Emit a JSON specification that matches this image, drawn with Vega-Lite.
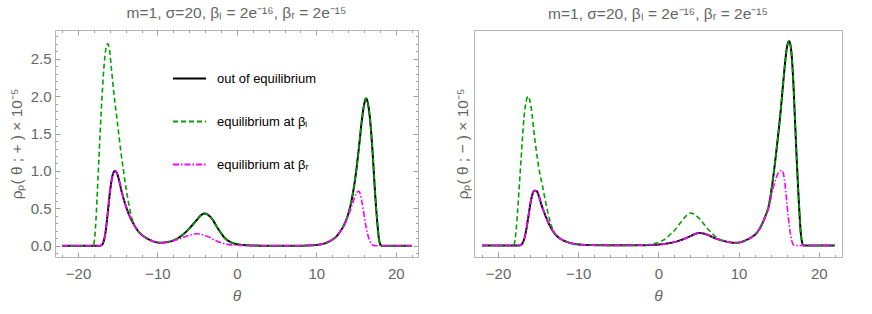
{
"$schema": "https://vega.github.io/schema/vega-lite/v6.json",
"padding": {"left": 8, "top": 5, "right": 4, "bottom": 4},
"config": {
  "font": "Liberation Sans",
  "view": {"stroke": "#b4b4b4", "strokeWidth": 1},
  "axis": {"grid": false, "domain": false, "labelColor": "#666666", "titleColor": "#666666", "labelFontSize": 15, "titleFontSize": 15.5, "titleFontWeight": "normal", "tickColor": "#a0a0a0", "tickWidth": 1},
  "title": {"fontSize": 15.5, "fontWeight": "normal", "color": "#666666", "offset": 8}
},
"datasets": {
"plus": [
{"theta":-22,"rho":0,"series":"out"},{"theta":-19,"rho":0,"series":"out"},{"theta":-17.3,"rho":0,"series":"out"},{"theta":-17,"rho":0.01,"series":"out"},{"theta":-16.8,"rho":0.05,"series":"out"},{"theta":-16.6,"rho":0.14,"series":"out"},{"theta":-16.4,"rho":0.3,"series":"out"},{"theta":-16.2,"rho":0.5,"series":"out"},{"theta":-16,"rho":0.7,"series":"out"},{"theta":-15.8,"rho":0.86,"series":"out"},{"theta":-15.6,"rho":0.96,"series":"out"},{"theta":-15.35,"rho":1,"series":"out"},{"theta":-15.1,"rho":0.97,"series":"out"},{"theta":-14.8,"rho":0.86,"series":"out"},{"theta":-14.5,"rho":0.72,"series":"out"},{"theta":-14.1,"rho":0.57,"series":"out"},{"theta":-13.6,"rho":0.42,"series":"out"},{"theta":-13,"rho":0.29,"series":"out"},{"theta":-12.4,"rho":0.19,"series":"out"},{"theta":-11.8,"rho":0.13,"series":"out"},{"theta":-11,"rho":0.08,"series":"out"},{"theta":-10.3,"rho":0.05,"series":"out"},{"theta":-9.6,"rho":0.04,"series":"out"},{"theta":-9,"rho":0.045,"series":"out"},{"theta":-8,"rho":0.07,"series":"out"},{"theta":-7,"rho":0.13,"series":"out"},{"theta":-6,"rho":0.23,"series":"out"},{"theta":-5,"rho":0.35,"series":"out"},{"theta":-4.5,"rho":0.41,"series":"out"},{"theta":-4.1,"rho":0.43,"series":"out"},{"theta":-3.6,"rho":0.41,"series":"out"},{"theta":-3,"rho":0.34,"series":"out"},{"theta":-2.5,"rho":0.25,"series":"out"},{"theta":-2,"rho":0.17,"series":"out"},{"theta":-1.5,"rho":0.1,"series":"out"},{"theta":-1,"rho":0.06,"series":"out"},{"theta":-0.5,"rho":0.035,"series":"out"},{"theta":0,"rho":0.02,"series":"out"},{"theta":1,"rho":0.008,"series":"out"},{"theta":2,"rho":0.003,"series":"out"},{"theta":4,"rho":0,"series":"out"},{"theta":8,"rho":0,"series":"out"},{"theta":9,"rho":0.003,"series":"out"},{"theta":10,"rho":0.01,"series":"out"},{"theta":11,"rho":0.03,"series":"out"},{"theta":12,"rho":0.08,"series":"out"},{"theta":12.5,"rho":0.12,"series":"out"},{"theta":13,"rho":0.19,"series":"out"},{"theta":13.5,"rho":0.28,"series":"out"},{"theta":14,"rho":0.42,"series":"out"},{"theta":14.5,"rho":0.64,"series":"out"},{"theta":15,"rho":0.98,"series":"out"},{"theta":15.4,"rho":1.35,"series":"out"},{"theta":15.7,"rho":1.65,"series":"out"},{"theta":16,"rho":1.88,"series":"out"},{"theta":16.25,"rho":1.97,"series":"out"},{"theta":16.5,"rho":1.9,"series":"out"},{"theta":16.8,"rho":1.65,"series":"out"},{"theta":17.1,"rho":1.22,"series":"out"},{"theta":17.4,"rho":0.7,"series":"out"},{"theta":17.7,"rho":0.28,"series":"out"},{"theta":17.9,"rho":0.08,"series":"out"},{"theta":18.1,"rho":0.01,"series":"out"},{"theta":18.3,"rho":0,"series":"out"},{"theta":22,"rho":0,"series":"out"},

{"theta":-22,"rho":0,"series":"eqL"},{"theta":-19,"rho":0,"series":"eqL"},{"theta":-18.2,"rho":0,"series":"eqL"},{"theta":-18,"rho":0.03,"series":"eqL"},{"theta":-17.8,"rho":0.25,"series":"eqL"},{"theta":-17.6,"rho":0.65,"series":"eqL"},{"theta":-17.4,"rho":1.1,"series":"eqL"},{"theta":-17.2,"rho":1.55,"series":"eqL"},{"theta":-17,"rho":1.95,"series":"eqL"},{"theta":-16.8,"rho":2.3,"series":"eqL"},{"theta":-16.6,"rho":2.55,"series":"eqL"},{"theta":-16.4,"rho":2.68,"series":"eqL"},{"theta":-16.25,"rho":2.7,"series":"eqL"},{"theta":-16.05,"rho":2.63,"series":"eqL"},{"theta":-15.8,"rho":2.37,"series":"eqL"},{"theta":-15.5,"rho":2.05,"series":"eqL"},{"theta":-15.2,"rho":1.78,"series":"eqL"},{"theta":-14.9,"rho":1.52,"series":"eqL"},{"theta":-14.6,"rho":1.25,"series":"eqL"},{"theta":-14.3,"rho":1.02,"series":"eqL"},{"theta":-14,"rho":0.8,"series":"eqL"},{"theta":-13.6,"rho":0.55,"series":"eqL"},{"theta":-13.2,"rho":0.36,"series":"eqL"},{"theta":-12.8,"rho":0.25,"series":"eqL"},{"theta":-12.4,"rho":0.19,"series":"eqL"},{"theta":-11.8,"rho":0.13,"series":"eqL"},{"theta":-11,"rho":0.08,"series":"eqL"},{"theta":-10.3,"rho":0.05,"series":"eqL"},{"theta":-9.6,"rho":0.04,"series":"eqL"},{"theta":-9,"rho":0.045,"series":"eqL"},{"theta":-8,"rho":0.07,"series":"eqL"},{"theta":-7,"rho":0.13,"series":"eqL"},{"theta":-6,"rho":0.23,"series":"eqL"},{"theta":-5,"rho":0.35,"series":"eqL"},{"theta":-4.5,"rho":0.41,"series":"eqL"},{"theta":-4.1,"rho":0.43,"series":"eqL"},{"theta":-3.6,"rho":0.41,"series":"eqL"},{"theta":-3,"rho":0.34,"series":"eqL"},{"theta":-2.5,"rho":0.25,"series":"eqL"},{"theta":-2,"rho":0.17,"series":"eqL"},{"theta":-1.5,"rho":0.1,"series":"eqL"},{"theta":-1,"rho":0.06,"series":"eqL"},{"theta":-0.5,"rho":0.035,"series":"eqL"},{"theta":0,"rho":0.02,"series":"eqL"},{"theta":1,"rho":0.008,"series":"eqL"},{"theta":2,"rho":0.003,"series":"eqL"},{"theta":4,"rho":0,"series":"eqL"},{"theta":8,"rho":0,"series":"eqL"},{"theta":9,"rho":0.003,"series":"eqL"},{"theta":10,"rho":0.01,"series":"eqL"},{"theta":11,"rho":0.03,"series":"eqL"},{"theta":12,"rho":0.08,"series":"eqL"},{"theta":12.5,"rho":0.12,"series":"eqL"},{"theta":13,"rho":0.19,"series":"eqL"},{"theta":13.5,"rho":0.28,"series":"eqL"},{"theta":14,"rho":0.42,"series":"eqL"},{"theta":14.5,"rho":0.64,"series":"eqL"},{"theta":15,"rho":0.98,"series":"eqL"},{"theta":15.4,"rho":1.35,"series":"eqL"},{"theta":15.7,"rho":1.65,"series":"eqL"},{"theta":16,"rho":1.88,"series":"eqL"},{"theta":16.25,"rho":1.97,"series":"eqL"},{"theta":16.5,"rho":1.9,"series":"eqL"},{"theta":16.8,"rho":1.65,"series":"eqL"},{"theta":17.1,"rho":1.22,"series":"eqL"},{"theta":17.4,"rho":0.7,"series":"eqL"},{"theta":17.7,"rho":0.28,"series":"eqL"},{"theta":17.9,"rho":0.08,"series":"eqL"},{"theta":18.1,"rho":0.01,"series":"eqL"},{"theta":18.3,"rho":0,"series":"eqL"},{"theta":22,"rho":0,"series":"eqL"},

{"theta":-22,"rho":0,"series":"eqR"},{"theta":-19,"rho":0,"series":"eqR"},{"theta":-17.3,"rho":0,"series":"eqR"},{"theta":-17,"rho":0.01,"series":"eqR"},{"theta":-16.8,"rho":0.05,"series":"eqR"},{"theta":-16.6,"rho":0.14,"series":"eqR"},{"theta":-16.4,"rho":0.3,"series":"eqR"},{"theta":-16.2,"rho":0.5,"series":"eqR"},{"theta":-16,"rho":0.7,"series":"eqR"},{"theta":-15.8,"rho":0.86,"series":"eqR"},{"theta":-15.6,"rho":0.96,"series":"eqR"},{"theta":-15.35,"rho":1,"series":"eqR"},{"theta":-15.1,"rho":0.97,"series":"eqR"},{"theta":-14.8,"rho":0.86,"series":"eqR"},{"theta":-14.5,"rho":0.72,"series":"eqR"},{"theta":-14.1,"rho":0.57,"series":"eqR"},{"theta":-13.6,"rho":0.42,"series":"eqR"},{"theta":-13,"rho":0.29,"series":"eqR"},{"theta":-12.4,"rho":0.19,"series":"eqR"},{"theta":-11.8,"rho":0.13,"series":"eqR"},{"theta":-11,"rho":0.08,"series":"eqR"},{"theta":-10.3,"rho":0.05,"series":"eqR"},{"theta":-9.6,"rho":0.035,"series":"eqR"},{"theta":-9,"rho":0.045,"series":"eqR"},{"theta":-8,"rho":0.065,"series":"eqR"},{"theta":-7,"rho":0.1,"series":"eqR"},{"theta":-6,"rho":0.14,"series":"eqR"},{"theta":-5.1,"rho":0.16,"series":"eqR"},{"theta":-4.2,"rho":0.145,"series":"eqR"},{"theta":-3.5,"rho":0.115,"series":"eqR"},{"theta":-3,"rho":0.085,"series":"eqR"},{"theta":-2.5,"rho":0.06,"series":"eqR"},{"theta":-2,"rho":0.04,"series":"eqR"},{"theta":-1.5,"rho":0.025,"series":"eqR"},{"theta":-1,"rho":0.015,"series":"eqR"},{"theta":0,"rho":0.006,"series":"eqR"},{"theta":1,"rho":0.002,"series":"eqR"},{"theta":3,"rho":0,"series":"eqR"},{"theta":8,"rho":0,"series":"eqR"},{"theta":9,"rho":0.003,"series":"eqR"},{"theta":10,"rho":0.01,"series":"eqR"},{"theta":11,"rho":0.03,"series":"eqR"},{"theta":12,"rho":0.08,"series":"eqR"},{"theta":12.5,"rho":0.12,"series":"eqR"},{"theta":13,"rho":0.19,"series":"eqR"},{"theta":13.5,"rho":0.27,"series":"eqR"},{"theta":14,"rho":0.39,"series":"eqR"},{"theta":14.4,"rho":0.51,"series":"eqR"},{"theta":14.8,"rho":0.64,"series":"eqR"},{"theta":15.1,"rho":0.71,"series":"eqR"},{"theta":15.3,"rho":0.73,"series":"eqR"},{"theta":15.5,"rho":0.7,"series":"eqR"},{"theta":15.75,"rho":0.58,"series":"eqR"},{"theta":16,"rho":0.42,"series":"eqR"},{"theta":16.25,"rho":0.26,"series":"eqR"},{"theta":16.5,"rho":0.14,"series":"eqR"},{"theta":16.8,"rho":0.05,"series":"eqR"},{"theta":17.1,"rho":0.01,"series":"eqR"},{"theta":17.4,"rho":0,"series":"eqR"},{"theta":22,"rho":0,"series":"eqR"}
],
"minus": [
{"theta":-22,"rho":0,"series":"out"},{"theta":-19,"rho":0,"series":"out"},{"theta":-17.3,"rho":0,"series":"out"},{"theta":-17.1,"rho":0.01,"series":"out"},{"theta":-16.9,"rho":0.04,"series":"out"},{"theta":-16.7,"rho":0.1,"series":"out"},{"theta":-16.5,"rho":0.2,"series":"out"},{"theta":-16.3,"rho":0.33,"series":"out"},{"theta":-16.1,"rho":0.47,"series":"out"},{"theta":-15.9,"rho":0.6,"series":"out"},{"theta":-15.7,"rho":0.69,"series":"out"},{"theta":-15.45,"rho":0.735,"series":"out"},{"theta":-15.2,"rho":0.73,"series":"out"},{"theta":-14.9,"rho":0.66,"series":"out"},{"theta":-14.6,"rho":0.55,"series":"out"},{"theta":-14.2,"rho":0.43,"series":"out"},{"theta":-13.7,"rho":0.3,"series":"out"},{"theta":-13.2,"rho":0.2,"series":"out"},{"theta":-12.6,"rho":0.12,"series":"out"},{"theta":-12,"rho":0.075,"series":"out"},{"theta":-11.2,"rho":0.04,"series":"out"},{"theta":-10.5,"rho":0.02,"series":"out"},{"theta":-9.5,"rho":0.01,"series":"out"},{"theta":-8,"rho":0.004,"series":"out"},{"theta":-6,"rho":0.001,"series":"out"},{"theta":-4,"rho":0.001,"series":"out"},{"theta":-2,"rho":0.003,"series":"out"},{"theta":-1,"rho":0.006,"series":"out"},{"theta":0,"rho":0.012,"series":"out"},{"theta":1,"rho":0.025,"series":"out"},{"theta":2,"rho":0.045,"series":"out"},{"theta":3,"rho":0.08,"series":"out"},{"theta":4,"rho":0.125,"series":"out"},{"theta":4.6,"rho":0.155,"series":"out"},{"theta":5.1,"rho":0.166,"series":"out"},{"theta":5.6,"rho":0.16,"series":"out"},{"theta":6.2,"rho":0.14,"series":"out"},{"theta":7,"rho":0.1,"series":"out"},{"theta":8,"rho":0.065,"series":"out"},{"theta":8.8,"rho":0.045,"series":"out"},{"theta":9.5,"rho":0.035,"series":"out"},{"theta":10.1,"rho":0.04,"series":"out"},{"theta":11,"rho":0.075,"series":"out"},{"theta":11.6,"rho":0.11,"series":"out"},{"theta":12.2,"rho":0.16,"series":"out"},{"theta":12.8,"rho":0.26,"series":"out"},{"theta":13.3,"rho":0.38,"series":"out"},{"theta":13.8,"rho":0.55,"series":"out"},{"theta":14.3,"rho":0.9,"series":"out"},{"theta":14.8,"rho":1.35,"series":"out"},{"theta":15.2,"rho":1.75,"series":"out"},{"theta":15.5,"rho":2.1,"series":"out"},{"theta":15.8,"rho":2.45,"series":"out"},{"theta":16.05,"rho":2.67,"series":"out"},{"theta":16.3,"rho":2.74,"series":"out"},{"theta":16.55,"rho":2.63,"series":"out"},{"theta":16.8,"rho":2.25,"series":"out"},{"theta":17.05,"rho":1.65,"series":"out"},{"theta":17.3,"rho":1.05,"series":"out"},{"theta":17.55,"rho":0.52,"series":"out"},{"theta":17.75,"rho":0.18,"series":"out"},{"theta":17.95,"rho":0.03,"series":"out"},{"theta":18.1,"rho":0,"series":"out"},{"theta":22,"rho":0,"series":"out"},

{"theta":-22,"rho":0,"series":"eqL"},{"theta":-19,"rho":0,"series":"eqL"},{"theta":-18.1,"rho":0,"series":"eqL"},{"theta":-17.95,"rho":0.03,"series":"eqL"},{"theta":-17.75,"rho":0.2,"series":"eqL"},{"theta":-17.55,"rho":0.48,"series":"eqL"},{"theta":-17.35,"rho":0.8,"series":"eqL"},{"theta":-17.15,"rho":1.12,"series":"eqL"},{"theta":-16.95,"rho":1.45,"series":"eqL"},{"theta":-16.75,"rho":1.73,"series":"eqL"},{"theta":-16.5,"rho":1.93,"series":"eqL"},{"theta":-16.25,"rho":2,"series":"eqL"},{"theta":-16,"rho":1.93,"series":"eqL"},{"theta":-15.75,"rho":1.75,"series":"eqL"},{"theta":-15.5,"rho":1.5,"series":"eqL"},{"theta":-15.2,"rho":1.25,"series":"eqL"},{"theta":-14.9,"rho":1.03,"series":"eqL"},{"theta":-14.5,"rho":0.82,"series":"eqL"},{"theta":-14.1,"rho":0.6,"series":"eqL"},{"theta":-13.65,"rho":0.38,"series":"eqL"},{"theta":-13.2,"rho":0.22,"series":"eqL"},{"theta":-12.6,"rho":0.12,"series":"eqL"},{"theta":-12,"rho":0.075,"series":"eqL"},{"theta":-11.2,"rho":0.04,"series":"eqL"},{"theta":-10.5,"rho":0.02,"series":"eqL"},{"theta":-9.5,"rho":0.01,"series":"eqL"},{"theta":-8,"rho":0.004,"series":"eqL"},{"theta":-6,"rho":0.001,"series":"eqL"},{"theta":-4,"rho":0.001,"series":"eqL"},{"theta":-2,"rho":0.003,"series":"eqL"},{"theta":-1.5,"rho":0.006,"series":"eqL"},{"theta":-1,"rho":0.015,"series":"eqL"},{"theta":-0.5,"rho":0.025,"series":"eqL"},{"theta":0,"rho":0.04,"series":"eqL"},{"theta":0.5,"rho":0.065,"series":"eqL"},{"theta":1,"rho":0.1,"series":"eqL"},{"theta":1.5,"rho":0.15,"series":"eqL"},{"theta":2,"rho":0.2,"series":"eqL"},{"theta":2.5,"rho":0.27,"series":"eqL"},{"theta":3,"rho":0.34,"series":"eqL"},{"theta":3.5,"rho":0.4,"series":"eqL"},{"theta":4.05,"rho":0.434,"series":"eqL"},{"theta":4.6,"rho":0.41,"series":"eqL"},{"theta":5.2,"rho":0.35,"series":"eqL"},{"theta":5.8,"rho":0.27,"series":"eqL"},{"theta":6.35,"rho":0.2,"series":"eqL"},{"theta":7,"rho":0.13,"series":"eqL"},{"theta":7.6,"rho":0.085,"series":"eqL"},{"theta":8.2,"rho":0.055,"series":"eqL"},{"theta":8.8,"rho":0.045,"series":"eqL"},{"theta":9.5,"rho":0.035,"series":"eqL"},{"theta":10.1,"rho":0.04,"series":"eqL"},{"theta":11,"rho":0.075,"series":"eqL"},{"theta":11.6,"rho":0.11,"series":"eqL"},{"theta":12.2,"rho":0.16,"series":"eqL"},{"theta":12.8,"rho":0.26,"series":"eqL"},{"theta":13.3,"rho":0.38,"series":"eqL"},{"theta":13.8,"rho":0.55,"series":"eqL"},{"theta":14.3,"rho":0.9,"series":"eqL"},{"theta":14.8,"rho":1.35,"series":"eqL"},{"theta":15.2,"rho":1.75,"series":"eqL"},{"theta":15.5,"rho":2.1,"series":"eqL"},{"theta":15.8,"rho":2.45,"series":"eqL"},{"theta":16.05,"rho":2.67,"series":"eqL"},{"theta":16.3,"rho":2.74,"series":"eqL"},{"theta":16.55,"rho":2.63,"series":"eqL"},{"theta":16.8,"rho":2.25,"series":"eqL"},{"theta":17.05,"rho":1.65,"series":"eqL"},{"theta":17.3,"rho":1.05,"series":"eqL"},{"theta":17.55,"rho":0.52,"series":"eqL"},{"theta":17.75,"rho":0.18,"series":"eqL"},{"theta":17.95,"rho":0.03,"series":"eqL"},{"theta":18.1,"rho":0,"series":"eqL"},{"theta":22,"rho":0,"series":"eqL"},

{"theta":-22,"rho":0,"series":"eqR"},{"theta":-19,"rho":0,"series":"eqR"},{"theta":-17.3,"rho":0,"series":"eqR"},{"theta":-17.1,"rho":0.01,"series":"eqR"},{"theta":-16.9,"rho":0.04,"series":"eqR"},{"theta":-16.7,"rho":0.1,"series":"eqR"},{"theta":-16.5,"rho":0.2,"series":"eqR"},{"theta":-16.3,"rho":0.33,"series":"eqR"},{"theta":-16.1,"rho":0.47,"series":"eqR"},{"theta":-15.9,"rho":0.6,"series":"eqR"},{"theta":-15.7,"rho":0.69,"series":"eqR"},{"theta":-15.45,"rho":0.735,"series":"eqR"},{"theta":-15.2,"rho":0.73,"series":"eqR"},{"theta":-14.9,"rho":0.66,"series":"eqR"},{"theta":-14.6,"rho":0.55,"series":"eqR"},{"theta":-14.2,"rho":0.43,"series":"eqR"},{"theta":-13.7,"rho":0.3,"series":"eqR"},{"theta":-13.2,"rho":0.2,"series":"eqR"},{"theta":-12.6,"rho":0.12,"series":"eqR"},{"theta":-12,"rho":0.075,"series":"eqR"},{"theta":-11.2,"rho":0.04,"series":"eqR"},{"theta":-10.5,"rho":0.02,"series":"eqR"},{"theta":-9.5,"rho":0.01,"series":"eqR"},{"theta":-8,"rho":0.004,"series":"eqR"},{"theta":-6,"rho":0.001,"series":"eqR"},{"theta":-4,"rho":0.001,"series":"eqR"},{"theta":-2,"rho":0.003,"series":"eqR"},{"theta":-1,"rho":0.006,"series":"eqR"},{"theta":0,"rho":0.012,"series":"eqR"},{"theta":1,"rho":0.025,"series":"eqR"},{"theta":2,"rho":0.045,"series":"eqR"},{"theta":3,"rho":0.08,"series":"eqR"},{"theta":4,"rho":0.125,"series":"eqR"},{"theta":4.6,"rho":0.155,"series":"eqR"},{"theta":5.1,"rho":0.166,"series":"eqR"},{"theta":5.6,"rho":0.16,"series":"eqR"},{"theta":6.2,"rho":0.14,"series":"eqR"},{"theta":7,"rho":0.1,"series":"eqR"},{"theta":8,"rho":0.065,"series":"eqR"},{"theta":8.8,"rho":0.045,"series":"eqR"},{"theta":9.5,"rho":0.035,"series":"eqR"},{"theta":10.1,"rho":0.04,"series":"eqR"},{"theta":11,"rho":0.075,"series":"eqR"},{"theta":11.6,"rho":0.11,"series":"eqR"},{"theta":12.2,"rho":0.16,"series":"eqR"},{"theta":12.8,"rho":0.26,"series":"eqR"},{"theta":13.3,"rho":0.38,"series":"eqR"},{"theta":13.8,"rho":0.52,"series":"eqR"},{"theta":14.2,"rho":0.72,"series":"eqR"},{"theta":14.6,"rho":0.88,"series":"eqR"},{"theta":15,"rho":0.98,"series":"eqR"},{"theta":15.4,"rho":1.005,"series":"eqR"},{"theta":15.7,"rho":0.9,"series":"eqR"},{"theta":16,"rho":0.6,"series":"eqR"},{"theta":16.2,"rho":0.38,"series":"eqR"},{"theta":16.45,"rho":0.17,"series":"eqR"},{"theta":16.7,"rho":0.04,"series":"eqR"},{"theta":16.9,"rho":0.005,"series":"eqR"},{"theta":17.1,"rho":0,"series":"eqR"},{"theta":22,"rho":0,"series":"eqR"}
]
},
"spacing": 35,
"resolve": {"scale": {"x": "independent", "y": "independent", "color": "independent", "strokeDash": "independent"}, "legend": {"color": "independent", "strokeDash": "independent"}},
"hconcat": [
{
  "width": 363, "height": 227,
  "title": "m=1, σ=20, βₗ = 2e⁻¹⁶, βᵣ = 2e⁻¹⁵",
  "data": {"name": "plus"},
  "resolve": {"axis": {"x": "independent", "y": "independent"}},
  "layer": [
    {
      "transform": [{"filter": "datum.series === 'out'"}],
      "mark": {"type": "line", "strokeWidth": 2, "interpolate": "monotone"},
      "encoding": {
        "x": {"field": "theta", "type": "quantitative", "scale": {"domain": [-22.9, 22.8], "nice": false, "zero": false},
              "axis": {"orient": "bottom", "values": [-20, -10, 0, 10, 20], "ticks": false, "tickSize": 0, "labelPadding": 9, "labelFlush": false, "title": "θ", "titleFontStyle": "italic", "titlePadding": 7}},
        "y": {"field": "rho", "type": "quantitative", "scale": {"domain": [-0.151, 2.885], "nice": false, "zero": false},
              "axis": {"orient": "left", "values": [0, 0.5, 1, 1.5, 2, 2.5], "format": ".1f", "ticks": false, "tickSize": 0, "labelPadding": 4, "labelFlush": false, "title": "ρₚ( θ ; + ) × 10⁻⁵", "titlePadding": 6}},
        "color": {"field": "series", "type": "nominal", "scale": {"domain": ["out", "eqL", "eqR"], "range": ["#000000", "#00a300", "#ff00ff"]},
                  "legend": {"title": null, "orient": "none", "legendX": 117, "legendY": 31, "symbolType": "stroke", "symbolSize": 1089, "symbolStrokeWidth": 2, "labelFontSize": 13, "labelColor": "#000000", "labelOffset": 10, "rowPadding": 18,
                             "labelExpr": "datum.label === 'out' ? 'out of equilibrium' : datum.label === 'eqL' ? 'equilibrium at βₗ' : 'equilibrium at βᵣ'"}},
        "strokeDash": {"field": "series", "type": "nominal", "scale": {"domain": ["out", "eqL", "eqR"], "range": [[1, 0], [5, 3], [6, 2, 1.5, 2]]},
                  "legend": {"title": null, "orient": "none", "legendX": 117, "legendY": 31, "symbolType": "stroke", "symbolSize": 1089, "symbolStrokeWidth": 2, "labelFontSize": 13, "labelColor": "#000000", "labelOffset": 10, "rowPadding": 18,
                             "labelExpr": "datum.label === 'out' ? 'out of equilibrium' : datum.label === 'eqL' ? 'equilibrium at βₗ' : 'equilibrium at βᵣ'"}}
      }
    },
    {
      "transform": [{"filter": "datum.series === 'eqL'"}],
      "mark": {"type": "line", "strokeWidth": 1.6, "interpolate": "monotone"},
      "encoding": {
        "x": {"field": "theta", "type": "quantitative", "axis": {"orient": "bottom", "values": [-20, -10, 0, 10, 20], "labels": false, "tickSize": -5, "title": null}},
        "y": {"field": "rho", "type": "quantitative", "axis": {"orient": "left", "values": [0, 0.5, 1, 1.5, 2, 2.5], "labels": false, "tickSize": -5, "title": null}},
        "color": {"field": "series", "type": "nominal", "legend": null},
        "strokeDash": {"field": "series", "type": "nominal", "legend": null}
      }
    },
    {
      "transform": [{"filter": "datum.series === 'eqR'"}],
      "mark": {"type": "line", "strokeWidth": 1.6, "interpolate": "monotone"},
      "encoding": {
        "x": {"field": "theta", "type": "quantitative", "axis": {"orient": "bottom", "values": [-22, -18, -16, -14, -12, -8, -6, -4, -2, 2, 4, 6, 8, 12, 14, 16, 18, 22], "labels": false, "tickSize": -2.5, "title": null}},
        "y": {"field": "rho", "type": "quantitative", "axis": {"orient": "left", "values": [-0.1, 0.1, 0.2, 0.3, 0.4, 0.6, 0.7, 0.8, 0.9, 1.1, 1.2, 1.3, 1.4, 1.6, 1.7, 1.8, 1.9, 2.1, 2.2, 2.3, 2.4, 2.6, 2.7, 2.8], "labels": false, "tickSize": -2.5, "title": null}},
        "color": {"field": "series", "type": "nominal", "legend": null},
        "strokeDash": {"field": "series", "type": "nominal", "legend": null}
      }
    },
    {
      "transform": [{"filter": "false"}],
      "mark": {"type": "line"},
      "encoding": {
        "x": {"field": "theta", "type": "quantitative", "axis": {"orient": "top", "values": [-20, -10, 0, 10, 20], "labels": false, "tickSize": -5, "title": null}},
        "y": {"field": "rho", "type": "quantitative", "axis": {"orient": "right", "values": [0, 0.5, 1, 1.5, 2, 2.5], "labels": false, "tickSize": -5, "title": null}}
      }
    },
    {
      "transform": [{"filter": "false"}],
      "mark": {"type": "line"},
      "encoding": {
        "x": {"field": "theta", "type": "quantitative", "axis": {"orient": "top", "values": [-22, -18, -16, -14, -12, -8, -6, -4, -2, 2, 4, 6, 8, 12, 14, 16, 18, 22], "labels": false, "tickSize": -2.5, "title": null}},
        "y": {"field": "rho", "type": "quantitative", "axis": {"orient": "right", "values": [-0.1, 0.1, 0.2, 0.3, 0.4, 0.6, 0.7, 0.8, 0.9, 1.1, 1.2, 1.3, 1.4, 1.6, 1.7, 1.8, 1.9, 2.1, 2.2, 2.3, 2.4, 2.6, 2.7, 2.8], "labels": false, "tickSize": -2.5, "title": null}}
      }
    }
  ]
},
{
  "width": 368, "height": 227,
  "title": "m=1, σ=20, βₗ = 2e⁻¹⁶, βᵣ = 2e⁻¹⁵",
  "data": {"name": "minus"},
  "resolve": {"axis": {"x": "independent", "y": "independent"}},
  "layer": [
    {
      "transform": [{"filter": "datum.series === 'out'"}],
      "mark": {"type": "line", "strokeWidth": 2, "interpolate": "monotone"},
      "encoding": {
        "x": {"field": "theta", "type": "quantitative", "scale": {"domain": [-23, 22.9], "nice": false, "zero": false},
              "axis": {"orient": "bottom", "values": [-20, -10, 0, 10, 20], "ticks": false, "tickSize": 0, "labelPadding": 9, "labelFlush": false, "title": "θ", "titleFontStyle": "italic", "titlePadding": 7}},
        "y": {"field": "rho", "type": "quantitative", "scale": {"domain": [-0.155, 2.89], "nice": false, "zero": false},
              "axis": {"orient": "left", "labels": false, "ticks": false, "tickSize": 0, "title": "ρₚ( θ ; − ) × 10⁻⁵", "titlePadding": 4}},
        "color": {"field": "series", "type": "nominal", "scale": {"domain": ["out", "eqL", "eqR"], "range": ["#000000", "#00a300", "#ff00ff"]}, "legend": null},
        "strokeDash": {"field": "series", "type": "nominal", "scale": {"domain": ["out", "eqL", "eqR"], "range": [[1, 0], [5, 3], [6, 2, 1.5, 2]]}, "legend": null}
      }
    },
    {
      "transform": [{"filter": "datum.series === 'eqL'"}],
      "mark": {"type": "line", "strokeWidth": 1.6, "interpolate": "monotone"},
      "encoding": {
        "x": {"field": "theta", "type": "quantitative", "axis": {"orient": "bottom", "values": [-20, -10, 0, 10, 20], "labels": false, "tickSize": -5, "title": null}},
        "y": {"field": "rho", "type": "quantitative", "axis": null},
        "color": {"field": "series", "type": "nominal", "legend": null},
        "strokeDash": {"field": "series", "type": "nominal", "legend": null}
      }
    },
    {
      "transform": [{"filter": "datum.series === 'eqR'"}],
      "mark": {"type": "line", "strokeWidth": 1.6, "interpolate": "monotone"},
      "encoding": {
        "x": {"field": "theta", "type": "quantitative", "axis": {"orient": "bottom", "values": [-22, -18, -16, -14, -12, -8, -6, -4, -2, 2, 4, 6, 8, 12, 14, 16, 18, 22], "labels": false, "tickSize": -2.5, "title": null}},
        "y": {"field": "rho", "type": "quantitative", "axis": null},
        "color": {"field": "series", "type": "nominal", "legend": null},
        "strokeDash": {"field": "series", "type": "nominal", "legend": null}
      }
    }
  ]
}
]
}
